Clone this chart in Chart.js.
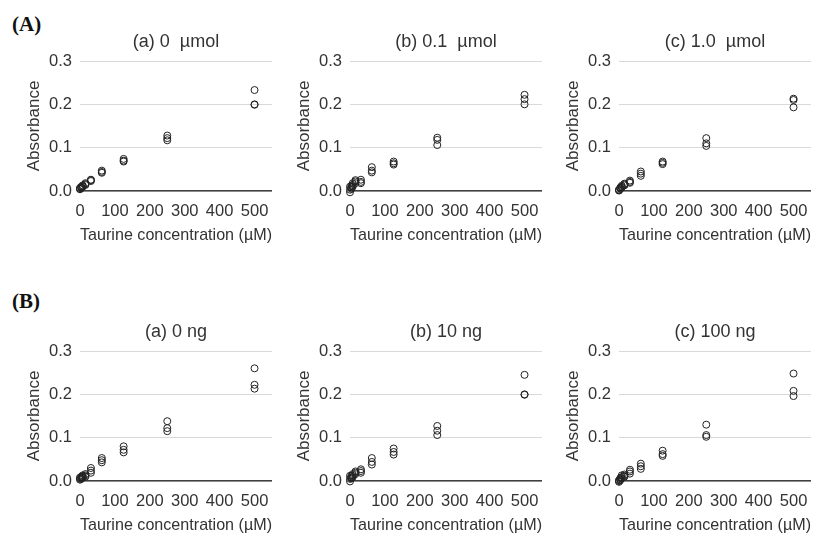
<!DOCTYPE html>
<html lang="en">
<head>
  <meta charset="UTF-8">
  <title>Taurine standard curves</title>
  <script src="https://cdn.jsdelivr.net/npm/chart.js"></script>
</head>
<body>

<div class="page">
  <div class="tag" style="top:12px;">(A)</div>
  <div class="tag" style="top:289px;">(B)</div>

  <canvas id="chart-a1" class="panel" width="272" height="246" style="left:0px; top:0px;"></canvas>
  <canvas id="chart-a2" class="panel" width="272" height="246" style="left:270px; top:0px;"></canvas>
  <canvas id="chart-a3" class="panel" width="272" height="246" style="left:539px; top:0px;"></canvas>
  <canvas id="chart-b1" class="panel" width="272" height="246" style="left:0px; top:290px;"></canvas>
  <canvas id="chart-b2" class="panel" width="272" height="246" style="left:270px; top:290px;"></canvas>
  <canvas id="chart-b3" class="panel" width="272" height="246" style="left:539px; top:290px;"></canvas>
</div>

<script>
// Taurine concentrations (uM), same for every panel
const conc = [0, 3.9, 7.8, 15.6, 31.25, 62.5, 125, 250, 500];
const xTicks = [0, 100, 200, 300, 400, 500];

// Absorbance, three replicates per panel (one row per replicate, in conc order)
const absA1 = [
  [0.007, 0.010, 0.013, 0.018, 0.026, 0.047, 0.074, 0.128, 0.233],
  [0.005, 0.008, 0.011, 0.016, 0.025, 0.044, 0.070, 0.122, 0.200],
  [0.004, 0.007, 0.010, 0.014, 0.023, 0.042, 0.068, 0.117, 0.199]
];
const absA2 = [
  [0.010, 0.012, 0.018, 0.025, 0.026, 0.055, 0.068, 0.123, 0.222],
  [0.003, 0.008, 0.014, 0.022, 0.021, 0.047, 0.064, 0.118, 0.212],
  [-0.003, 0.005, 0.010, 0.018, 0.018, 0.043, 0.061, 0.106, 0.200]
];
const absA3 = [
  [0.003, 0.008, 0.012, 0.017, 0.024, 0.045, 0.068, 0.122, 0.213],
  [0.002, 0.006, 0.010, 0.015, 0.021, 0.040, 0.065, 0.110, 0.210],
  [0.001, 0.005, 0.008, 0.013, 0.019, 0.035, 0.062, 0.104, 0.193]
];
const absB1 = [
  [0.008, 0.010, 0.013, 0.016, 0.030, 0.053, 0.080, 0.138, 0.260],
  [0.005, 0.007, 0.010, 0.013, 0.024, 0.048, 0.072, 0.122, 0.222],
  [0.003, 0.005, 0.008, 0.010, 0.019, 0.043, 0.066, 0.115, 0.213]
];
const absB2 = [
  [0.012, 0.012, 0.016, 0.022, 0.027, 0.053, 0.075, 0.127, 0.245],
  [0.005, 0.008, 0.012, 0.019, 0.023, 0.044, 0.067, 0.116, 0.200],
  [-0.001, 0.006, 0.009, 0.016, 0.019, 0.038, 0.061, 0.106, 0.199]
];
const absB3 = [
  [0.002, 0.007, 0.013, 0.015, 0.026, 0.040, 0.070, 0.130, 0.248],
  [0.000, 0.004, 0.009, 0.012, 0.022, 0.034, 0.062, 0.106, 0.208],
  [-0.002, 0.002, 0.006, 0.010, 0.017, 0.028, 0.058, 0.102, 0.196]
];

const FONT = 'Liberation Sans, Arial, sans-serif';
const TEXT = '#333333';

// panel title centred over the plot area (not over the whole canvas)
const panelTitle = {
  id: 'panelTitle',
  afterDraw(chart, args, opts) {
    const { ctx, chartArea } = chart;
    ctx.save();
    ctx.fillStyle = TEXT;
    ctx.font = '18px ' + FONT;
    ctx.textAlign = 'center';
    ctx.textBaseline = 'middle';
    ctx.fillText(opts.text, (chartArea.left + chartArea.right) / 2, 42);
    ctx.restore();
  }
};

function makePanel(id, title, reps) {
  const points = [];
  reps.forEach(rep => rep.forEach((v, i) => points.push({ x: conc[i], y: v })));

  const ctx = document.getElementById(id).getContext('2d');
  return new Chart(ctx, {
    type: 'scatter',
    data: {
      datasets: [{
        data: points,
        pointRadius: 3.5,
        pointHoverRadius: 3.5,
        pointBorderWidth: 1,
        borderColor: '#222222',
        backgroundColor: 'rgba(0,0,0,0)',
        clip: false
      }]
    },
    plugins: [panelTitle],
    options: {
      responsive: false,
      animation: false,
      layout: { autoPadding: false, padding: { top: 61, left: 0, right: 0, bottom: 0 } },
      plugins: {
        legend: { display: false },
        tooltip: { enabled: false },
        title: { display: false },
        panelTitle: { text: title }
      },
      scales: {
        x: {
          type: 'linear',
          min: 0,
          max: 550,
          afterBuildTicks: s => { s.ticks = xTicks.map(v => ({ value: v })); },
          afterFit: s => { s.height = 55; s.paddingLeft = 0; s.paddingRight = 0; },
          grid: { display: false, drawTicks: false },
          border: { display: true, color: '#404040', width: 1.5 },
          ticks: { padding: 11, color: TEXT, font: { family: FONT, size: 16.5 }, maxRotation: 0 },
          title: {
            display: true,
            text: 'Taurine concentration (µM)',
            color: TEXT,
            font: { family: FONT, size: 17 },
            padding: 0
          }
        },
        y: {
          min: 0,
          max: 0.3,
          afterFit: s => { s.width = 80; s.paddingTop = 0; s.paddingBottom = 0; },
          grid: { color: '#d9d9d9', drawTicks: false },
          border: { display: false },
          ticks: {
            stepSize: 0.1,
            padding: 8,
            color: TEXT,
            font: { family: FONT, size: 16.5 },
            callback: v => v.toFixed(1)
          },
          title: {
            display: true,
            text: 'Absorbance',
            color: TEXT,
            font: { family: FONT, size: 17 },
            padding: { top: 24, bottom: 0 }
          }
        }
      }
    }
  });
}

makePanel('chart-a1', '(a) 0  µmol', absA1);
makePanel('chart-a2', '(b) 0.1  µmol', absA2);
makePanel('chart-a3', '(c) 1.0  µmol', absA3);
makePanel('chart-b1', '(a) 0 ng', absB1);
makePanel('chart-b2', '(b) 10 ng', absB2);
makePanel('chart-b3', '(c) 100 ng', absB3);
</script>

<style>
  html, body {
    margin: 0;
    padding: 0;
    background: #ffffff;
    overflow: hidden;
  }
  .page {
    position: relative;
    width: 817px;
    height: 533px;
    background: #ffffff;
  }
  .panel {
    position: absolute;
  }
  .tag {
    position: absolute;
    left: 12px;
    font-family: 'Liberation Serif', 'Times New Roman', serif;
    font-weight: bold;
    font-size: 21px;
    color: #111111;
  }
</style>

</body>
</html>
